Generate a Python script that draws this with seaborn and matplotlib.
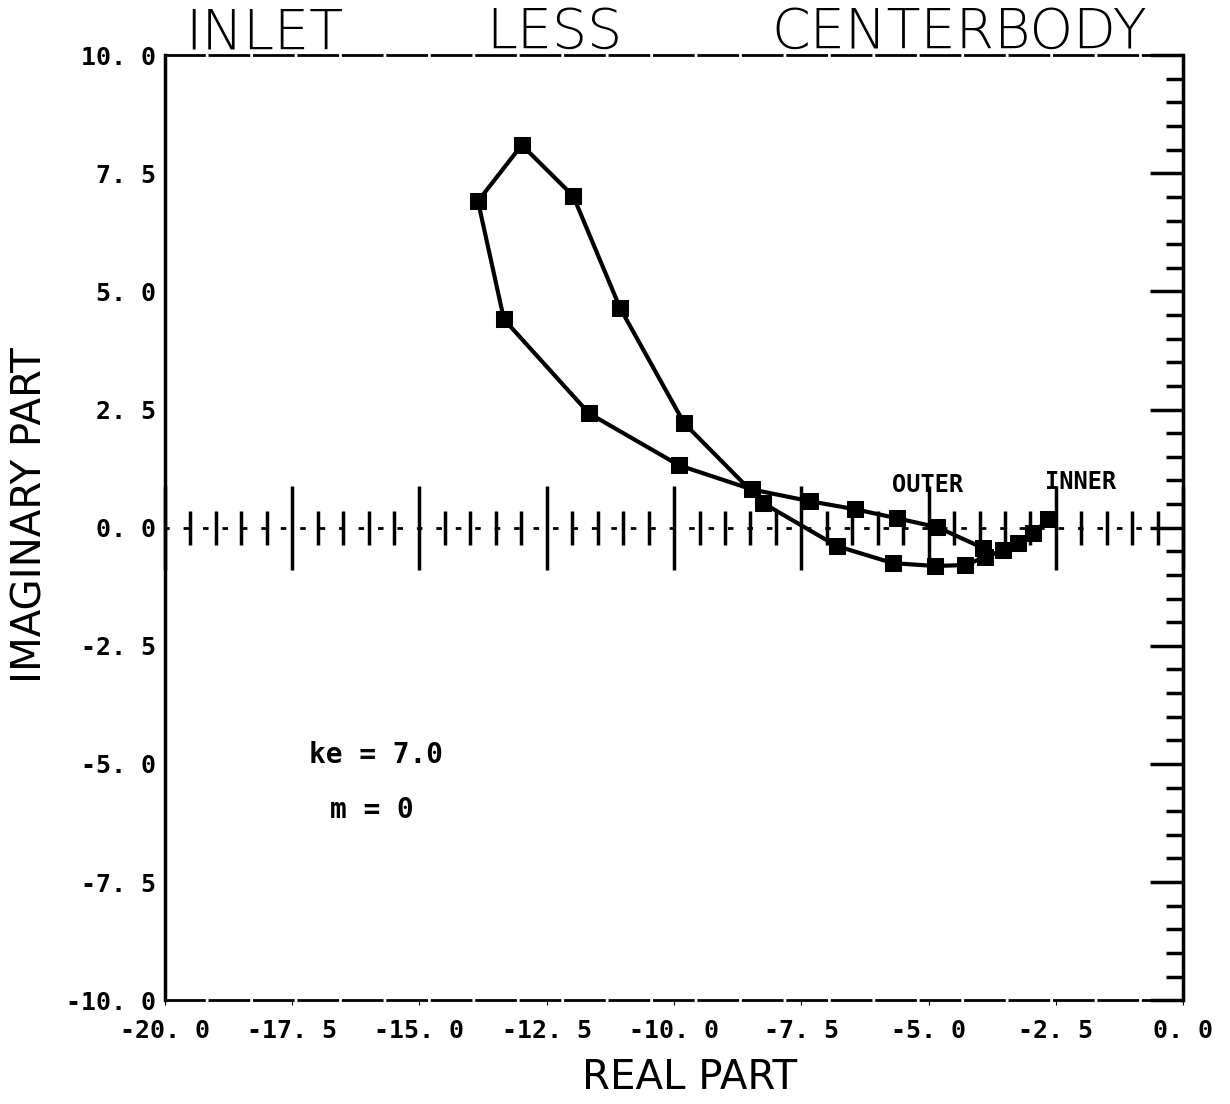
import matplotlib
matplotlib.use("Agg")
import matplotlib.pyplot as plt
from matplotlib.ticker import MultipleLocator, FixedLocator
import seaborn as sns
import pandas as pd

# Eigenvalue path (real part, imaginary part)
real_part = [-3.93, -4.83, -5.62, -6.44, -7.33, -8.47, -9.90, -11.67, -13.34,
             -13.85, -12.99, -11.98, -11.06, -9.80, -8.25, -6.80, -5.70, -4.87,
             -4.28, -3.89, -3.54, -3.24, -2.95, -2.65]
imag_part = [-0.43, 0.01, 0.20, 0.39, 0.56, 0.81, 1.32, 2.42, 4.41,
             6.91, 8.10, 7.02, 4.65, 2.21, 0.52, -0.39, -0.75, -0.81,
             -0.79, -0.62, -0.48, -0.33, -0.12, 0.18]

x_ticks = [-20.0, -17.5, -15.0, -12.5, -10.0, -7.5, -5.0, -2.5, 0.0]
y_ticks = [-10.0, -7.5, -5.0, -2.5, 0.0, 2.5, 5.0, 7.5, 10.0]

df = pd.DataFrame({"real": real_part, "imag": imag_part})

sns.set_style("white", {"text.color": "black", "xtick.color": "black",
                        "ytick.color": "black", "axes.edgecolor": "black"})
plt.rcParams["font.family"] = ["DejaVu Sans Mono", "DejaVu Sans"]


def tick_fmt(v):
    # plotter style: "10. 0"
    return f"{v:.1f}".replace(".", ". ")


fig = plt.figure(figsize=(12.3, 11.04), dpi=100)
ax = fig.add_axes([0.134, 0.094, 0.828, 0.856])

sns.lineplot(data=df, x="real", y="imag", sort=False, estimator=None,
             color="black", linewidth=3, marker="s", markersize=12,
             markeredgecolor="black", markerfacecolor="black", ax=ax)

ax.set_xlim(-20, 0)
ax.set_ylim(-10, 10)
ax.set_xticks(x_ticks)
ax.set_yticks(y_ticks)
ax.set_xticklabels([tick_fmt(v) for v in x_ticks], fontsize=18, fontweight="bold")
ax.set_yticklabels([tick_fmt(v) for v in y_ticks], fontsize=18, fontweight="bold")
ax.set_xlabel("")
ax.set_ylabel("")

# right side ticks pointing in, no ticks on left/bottom
ax.yaxis.set_minor_locator(MultipleLocator(0.5))
ax.tick_params(axis="y", which="both", left=False, right=True, direction="in",
               labelleft=True, width=2.5, pad=6)
ax.tick_params(axis="y", which="major", length=24)
ax.tick_params(axis="y", which="minor", length=12)
ax.tick_params(axis="x", which="both", bottom=False, top=False, pad=10)

for side in ["left", "right"]:
    ax.spines[side].set_linewidth(2.5)
for side in ["top", "bottom"]:
    ax.spines[side].set_linewidth(2)
    ax.spines[side].set_linestyle((0, (14, 2)))

# zero line with crossing ticks
ax0 = ax.twiny()
ax0.set_xlim(-20, 0)
ax0.spines["bottom"].set_position(("data", 0))
ax0.spines["bottom"].set_linestyle((0, (1, 6)))
ax0.spines["bottom"].set_linewidth(2)
for side in ["top", "left", "right"]:
    ax0.spines[side].set_visible(False)
ax0.xaxis.set_ticks_position("bottom")
ax0.xaxis.set_major_locator(FixedLocator(x_ticks))
ax0.xaxis.set_minor_locator(MultipleLocator(0.5))
ax0.tick_params(axis="x", which="major", direction="inout", length=60, width=2.5,
                labelbottom=False, labeltop=False)
ax0.tick_params(axis="x", which="minor", direction="inout", length=24, width=2.5)

# labels and annotations
fig.text(0.025, 0.533, "IMAGINARY PART", rotation=90, ha="center", va="center",
         fontsize=29, family="DejaVu Sans")
fig.text(0.561, 0.024, "REAL PART", ha="center", va="center",
         fontsize=29, family="DejaVu Sans")

for word, xpos in [("INLET", 0.215), ("LESS", 0.451), ("CENTERBODY", 0.780)]:
    fig.text(xpos, 0.970, word, ha="center", va="center", fontsize=40,
             family="DejaVu Sans", fontweight="light")

ax.text(0.142, 0.259, "ke = 7.0", transform=ax.transAxes, fontsize=20,
        fontweight="bold", va="center", ha="left")
ax.text(0.162, 0.201, "m = 0", transform=ax.transAxes, fontsize=20,
        fontweight="bold", va="center", ha="left")
ax.text(0.749, 0.545, "OUTER", transform=ax.transAxes, fontsize=17,
        fontweight="bold", va="center", ha="center")
ax.text(0.899, 0.548, "INNER", transform=ax.transAxes, fontsize=17,
        fontweight="bold", va="center", ha="center")

fig.savefig("out.png", dpi=100)
